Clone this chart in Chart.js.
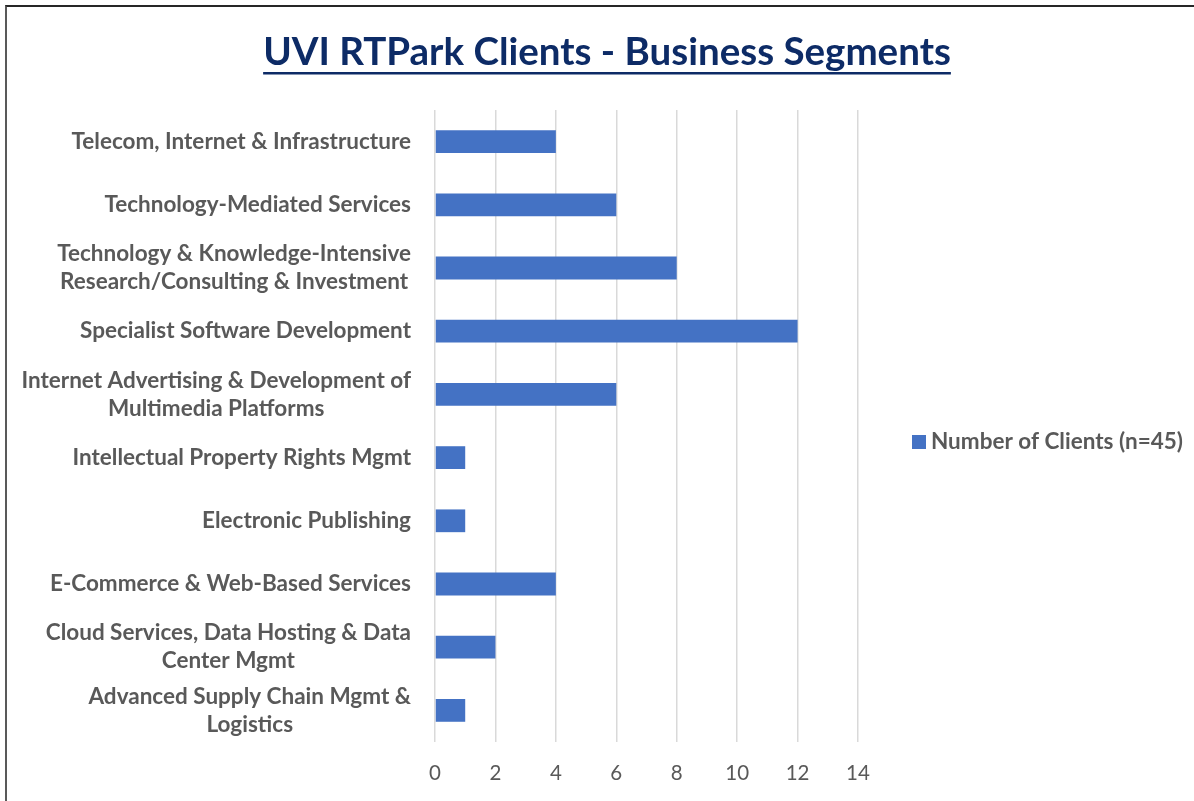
<!DOCTYPE html>
<html>
<head>
<meta charset="utf-8">
<script src="https://cdn.jsdelivr.net/npm/chart.js@4/dist/chart.umd.min.js"></script>
<style>
  html, body { margin: 0; padding: 0; background: #fff; overflow: hidden; }
  #wrap { position: relative; width: 1194px; height: 801px; }
  #frame { position: absolute; left: 5px; top: 5px; width: 1300px; height: 900px;
           border-left: 2px solid #595959; border-top: 2px solid #262626; }
  canvas { position: absolute; left: 0; top: 0; }
</style>
</head>
<body>
<div id="wrap">
  <div id="frame"></div>
  <canvas id="myChart" width="1194" height="801"></canvas>
</div>
<script>
const chartTitle = 'UVI RTPark Clients - Business Segments';
const seriesName = 'Number of Clients (n=45)';
const categories = [
    ['Telecom, Internet & Infrastructure'],
    ['Technology-Mediated Services'],
    ['Technology & Knowledge-Intensive', 'Research/Consulting & Investment'],
    ['Specialist Software Development'],
    ['Internet Advertising & Development of', 'Multimedia Platforms'],
    ['Intellectual Property Rights Mgmt'],
    ['Electronic Publishing'],
    ['E-Commerce & Web-Based Services'],
    ['Cloud Services, Data Hosting & Data', 'Center Mgmt'],
    ['Advanced Supply Chain Mgmt &', 'Logistics']
];
const clients = [4, 6, 8, 12, 6, 1, 1, 4, 2, 1];
const xTicks = [0, 2, 4, 6, 8, 10, 12, 14];

const labelFont = 'bold 22.5px Lato';
const gray = '#595959';

// titulek s podtržením, popisky kategorií a legenda
const drawTexts = {
    id: 'drawTexts',
    afterDraw(chart) {
        const ctx = chart.ctx;
        const yScale = chart.scales.y;
        ctx.save();
        ctx.font = 'bold 38.5px Lato';
        ctx.fillStyle = '#0d2b66';
        ctx.textAlign = 'center';
        ctx.textBaseline = 'middle';
        const tx = 607, ty = 53;
        ctx.fillText(chartTitle, tx, ty);
        const tw = ctx.measureText(chartTitle).width;
        ctx.fillRect(tx - tw / 2, 72, tw, 2.5);

        ctx.font = labelFont;
        ctx.fillStyle = gray;
        const rightEdge = 411;
        const lineH = 28;
        categories.forEach((lines, i) => {
            const y = yScale.getPixelForTick(i);
            const w = Math.max(...lines.map(l => ctx.measureText(l).width));
            const cx = rightEdge - w / 2;
            lines.forEach((l, j) => {
                ctx.fillText(l, cx, y + (j - (lines.length - 1) / 2) * lineH);
            });
        });

        // legenda
        const ly = (chart.chartArea.top + chart.chartArea.bottom) / 2 + 16;
        ctx.fillStyle = chart.data.datasets[0].backgroundColor;
        ctx.fillRect(912, ly - 7, 14, 14);
        ctx.fillStyle = gray;
        ctx.textAlign = 'left';
        ctx.fillText(chart.data.datasets[0].label, 931, ly);
        ctx.restore();
    }
};

const ctx = document.getElementById('myChart').getContext('2d');
new Chart(ctx, {
    type: 'bar',
    data: {
        labels: categories,
        datasets: [{
            label: seriesName,
            data: clients,
            backgroundColor: '#4472c4',
            borderWidth: 0,
            categoryPercentage: 1,
            barPercentage: 0.36
        }]
    },
    options: {
        indexAxis: 'y',
        responsive: false,
        animation: false,
        layout: { padding: { top: 110, left: 435, right: 336, bottom: 0 } },
        scales: {
            x: {
                min: 0,
                max: 14,
                afterBuildTicks: (axis) => { axis.ticks = xTicks.map(v => ({ value: v })); },
                afterFit: (axis) => { axis.height = 59; },
                grid: { color: '#d9d9d9', lineWidth: 1.5, drawTicks: false },
                border: { display: false },
                ticks: { color: gray, font: { family: 'Lato', size: 20.5 }, padding: 19 }
            },
            y: {
                afterFit: (axis) => { axis.width = 0; },
                grid: { display: false },
                border: { display: false },
                ticks: { display: false }
            }
        },
        plugins: {
            legend: { display: false },
            title: { display: false },
            tooltip: { enabled: false }
        }
    },
    plugins: [drawTexts]
});
</script>
</body>
</html>
